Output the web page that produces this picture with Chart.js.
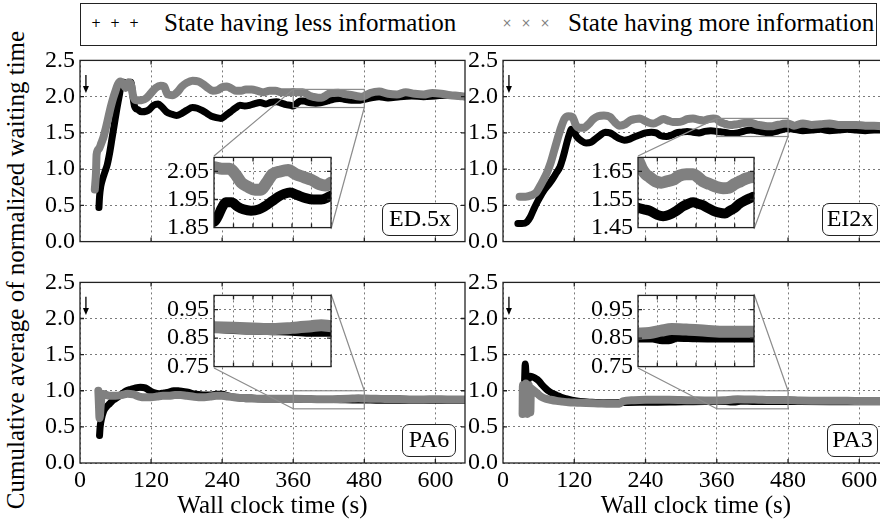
<!DOCTYPE html>
<html>
<head>
<meta charset="utf-8">
<script src="https://cdn.jsdelivr.net/npm/chart.js@4.4.1/dist/chart.umd.min.js"></script>
<style>
  html, body { margin: 0; padding: 0; background: #fff; overflow: hidden; }
  #fig { position: relative; width: 880px; height: 524px; overflow: hidden; background: #fff;
         font-family: "Liberation Serif", "DejaVu Serif", serif; color: #000; }
  #fig canvas { position: absolute; }
  #legend { position: absolute; left: 80px; top: 3px; width: 797px; height: 43px;
            border: 1.3px solid #222; background: #fff; box-sizing: border-box; }
  #legend span { position: absolute; white-space: nowrap; }
  .mk { font-family: "DejaVu Sans", sans-serif; font-size: 12px; top: 12px; transform: translateX(-50%); }
  .lt { font-size: 25px; top: 5px; }
  #ytitle { position: absolute; left: 16px; top: 270px; font-size: 25px; white-space: nowrap;
            transform: translate(-50%, -50%) rotate(-90deg); }
  .tag { position: absolute; border: 1.3px solid #222; border-radius: 7px; background: #fff;
         font-size: 24px; text-align: center; box-sizing: border-box; line-height: 29px; }
</style>
</head>
<body>
<div id="fig">
  <div id="legend">
    <span class="mk" style="left:15px;color:#000">+</span>
    <span class="mk" style="left:34px;color:#000">+</span>
    <span class="mk" style="left:53px;color:#000">+</span>
    <span class="lt" style="left:83px">State having less information</span>
    <span class="mk" style="left:426px;color:#808080">×</span>
    <span class="mk" style="left:445px;color:#808080">×</span>
    <span class="mk" style="left:464px;color:#808080">×</span>
    <span class="lt" style="left:487px">State having more information</span>
  </div>
  <div id="ytitle">Cumulative average of normalized waiting time</div>
</div>
<script>
// axis ticks
const timeTicks = [0, 120, 240, 360, 480, 600];
const waitTicks = [0, 0.5, 1.0, 1.5, 2.0, 2.5];
const zoomTimeTicks = [360, 380, 400, 420, 440, 460, 480];
const edZoomTicks = [1.85, 1.95, 2.05];
const eiZoomTicks = [1.45, 1.55, 1.65];
const paZoomTicks = [0.75, 0.85, 0.95];

// start marker (arrow) in data units
const arrowTime = 10, arrowFrom = 2.3, arrowTo = 2.05;

// [wall clock time (s), cumulative average]
const ed5xLess = [
  [32,0.47],[33,0.62],[35,0.76],[38,0.86],[42,0.96],[46,1.06],[50,1.22],[54,1.42],[58,1.62],[62,1.82],
  [66,2.0],[70,2.17],[74,2.2],[78,2.13],[82,2.17],[86,2.2],[89,2.02],[92,1.87],[98,1.82],[104,1.79],
  [112,1.8],[118,1.83],[124,1.88],[132,1.9],[138,1.86],[146,1.79],[154,1.76],[163,1.74],[172,1.77],
  [180,1.81],[190,1.85],[198,1.84],[206,1.81],[214,1.77],[222,1.73],[230,1.71],[238,1.7],[246,1.74],
  [254,1.79],[262,1.84],[270,1.88],[278,1.87],[286,1.88],[294,1.9],[304,1.92],[314,1.9],[322,1.92],
  [332,1.93],[340,1.91],[348,1.89],[356,1.88],
  [360,1.87],[364,1.89],[368,1.92],[372,1.94],[378,1.94],[384,1.925],[390,1.915],[398,1.91],[406,1.915],
  [414,1.93],[420,1.945],[426,1.96],[432,1.97],[438,1.975],[446,1.965],[454,1.955],[462,1.95],[470,1.95],
  [478,1.96],[490,1.98],[505,2.0],[520,1.98],[540,2.0],[560,2.01],[580,2.0],[600,2.01],[620,2.02],
  [640,2.01],[650,2.0]
];
const ed5xMore = [
  [25,0.72],[27,0.95],[28,1.2],[32,1.28],[36,1.36],[40,1.45],[44,1.58],[48,1.72],[52,1.86],[56,1.98],
  [60,2.08],[64,2.17],[68,2.21],[73,2.18],[77,2.12],[82,2.2],[86,2.17],[90,2.0],[95,1.95],[104,1.95],
  [112,1.98],[120,2.05],[128,2.12],[136,2.15],[142,2.14],[148,2.03],[156,2.02],[164,2.06],[172,2.14],
  [180,2.19],[190,2.22],[200,2.21],[208,2.17],[216,2.12],[224,2.08],[232,2.09],[240,2.13],[248,2.14],
  [256,2.11],[264,2.08],[272,2.08],[280,2.1],[290,2.1],[300,2.08],[310,2.06],[320,2.08],[330,2.08],
  [340,2.06],[350,2.06],
  [360,2.065],[368,2.06],[376,2.06],[382,2.04],[388,2.01],[395,1.995],[402,1.985],[408,1.985],[414,2.01],
  [420,2.04],[428,2.05],[436,2.055],[444,2.04],[452,2.03],[460,2.02],[468,2.005],[474,2.0],[480,2.01],
  [490,2.05],[505,2.07],[520,2.04],[535,2.03],[550,2.06],[565,2.04],[580,2.03],[595,2.05],[610,2.04],
  [625,2.02],[640,2.01],[650,2.0]
];

const ei2xLess = [
  [25,0.25],[32,0.25],[40,0.27],[46,0.34],[52,0.45],[58,0.55],[64,0.64],[70,0.72],[78,0.8],[84,0.87],
  [90,0.95],[96,1.03],[100,1.13],[104,1.25],[108,1.38],[112,1.49],[115,1.55],[119,1.52],[124,1.45],
  [132,1.39],[140,1.36],[148,1.37],[156,1.42],[164,1.47],[172,1.51],[180,1.5],[188,1.46],[196,1.42],
  [204,1.4],[212,1.41],[220,1.44],[230,1.47],[240,1.5],[250,1.51],[258,1.5],[266,1.46],[275,1.45],
  [284,1.47],[292,1.5],[300,1.51],[310,1.52],[320,1.51],[330,1.5],[340,1.52],[350,1.53],
  [360,1.52],[366,1.515],[372,1.51],[380,1.495],[386,1.49],[392,1.495],[400,1.51],[406,1.525],[412,1.535],
  [417,1.54],[422,1.535],[427,1.53],[432,1.52],[438,1.51],[444,1.503],[450,1.5],[455,1.51],[460,1.52],
  [465,1.535],[470,1.545],[476,1.555],[480,1.56],
  [490,1.55],[505,1.53],[520,1.54],[535,1.55],[550,1.53],[565,1.54],[580,1.55],[595,1.54],[610,1.53],
  [625,1.54],[640,1.54],[650,1.54]
];
const ei2xMore = [
  [28,0.62],[38,0.62],[48,0.64],[56,0.68],[62,0.76],[68,0.85],[74,0.95],[80,1.08],[86,1.25],[92,1.42],
  [98,1.58],[104,1.7],[110,1.73],[117,1.72],[122,1.62],[128,1.57],[136,1.57],[144,1.62],[152,1.69],
  [160,1.73],[170,1.74],[180,1.72],[188,1.65],[196,1.6],[206,1.62],[214,1.67],[222,1.69],[230,1.7],
  [238,1.67],[246,1.64],[254,1.63],[262,1.66],[270,1.69],[278,1.67],[286,1.65],[294,1.65],[302,1.66],
  [310,1.69],[320,1.7],[330,1.68],[338,1.67],[346,1.69],[354,1.7],
  [360,1.69],[364,1.66],[368,1.64],[372,1.63],[378,1.615],[384,1.61],[390,1.615],[396,1.62],[403,1.635],
  [410,1.64],[417,1.64],[422,1.63],[427,1.615],[434,1.605],[441,1.595],[448,1.59],[454,1.592],[460,1.605],
  [466,1.615],[472,1.625],[480,1.63],
  [490,1.6],[505,1.63],[520,1.61],[535,1.62],[550,1.63],[565,1.61],[580,1.61],[595,1.61],[610,1.6],
  [625,1.6],[640,1.59],[650,1.59]
];

const pa6Less = [
  [33,0.38],[34,0.5],[36,0.6],[40,0.72],[45,0.78],[50,0.82],[56,0.87],[62,0.9],[70,0.95],[78,1.0],
  [86,1.02],[94,1.04],[102,1.05],[110,1.04],[118,1.0],[126,0.97],[134,0.96],[142,0.97],[150,0.98],
  [158,1.0],[166,1.0],[174,0.99],[182,0.98],[190,0.96],[200,0.95],[210,0.94],[220,0.94],[230,0.95],
  [240,0.95],[250,0.93],[260,0.91],[270,0.9],[285,0.89],[300,0.89],[320,0.885],[340,0.885],
  [360,0.886],[380,0.882],[400,0.88],[420,0.878],[440,0.876],[460,0.872],[480,0.872],
  [500,0.87],[540,0.87],[580,0.868],[620,0.868],[650,0.868]
];
const pa6More = [
  [31,1.0],[32,0.8],[33,0.62],[35,0.8],[37,0.96],[42,0.95],[50,0.93],[60,0.93],[70,0.94],[80,0.96],
  [90,0.95],[100,0.92],[110,0.91],[120,0.91],[130,0.92],[140,0.93],[150,0.93],[160,0.94],[170,0.94],
  [180,0.93],[190,0.92],[200,0.91],[210,0.91],[220,0.92],[230,0.93],[240,0.93],[250,0.92],[260,0.91],
  [270,0.9],[280,0.9],[290,0.9],[300,0.89],[320,0.89],[340,0.89],
  [360,0.888],[380,0.886],[400,0.884],[420,0.882],[440,0.886],[460,0.892],[470,0.895],[480,0.892],
  [500,0.89],[520,0.885],[540,0.885],[560,0.88],[580,0.88],[600,0.882],[620,0.88],[650,0.88]
];

const pa3Less = [
  [36,1.05],[37.5,1.37],[39,1.2],[42,1.15],[46,1.2],[50,1.19],[55,1.17],[60,1.14],[66,1.08],[72,1.03],
  [78,0.99],[84,0.96],[90,0.94],[98,0.91],[106,0.89],[116,0.87],[130,0.85],[150,0.84],[170,0.835],
  [190,0.835],[210,0.838],[230,0.84],[260,0.842],[290,0.845],[320,0.848],[340,0.85],
  [360,0.852],[375,0.852],[385,0.846],[392,0.846],[400,0.855],[420,0.853],[440,0.852],[460,0.852],
  [480,0.852],[500,0.85],[550,0.848],[600,0.848],[650,0.848]
];
const pa3More = [
  [33,0.68],[33.5,1.08],[36,0.7],[38.5,1.1],[41,0.68],[43.5,1.08],[46,0.7],[47,1.03],[52,1.0],[58,0.96],
  [64,0.92],[72,0.89],[80,0.875],[90,0.86],[100,0.85],[110,0.84],[125,0.835],[140,0.83],[160,0.825],
  [180,0.82],[196,0.82],[202,0.855],[220,0.87],[240,0.875],[260,0.875],[280,0.875],[300,0.872],
  [320,0.868],[340,0.865],
  [360,0.866],[372,0.868],[384,0.876],[395,0.882],[410,0.88],[430,0.876],[450,0.872],[480,0.872],
  [500,0.865],[540,0.862],[580,0.86],[620,0.858],[650,0.858]
];

// page layout of the four panels and their zoomed insets
const panels = [
  { tag: 'ED.5x', less: ed5xLess, more: ed5xMore, showTime: false,
    plot: { x: 80, y: 59, w: 385, h: 184 }, tagBox: { x: 382, y: 203, w: 76, h: 33 },
    zoom: { x: 214, y: 156, w: 117, h: 73, min: 1.85, max: 2.10, ticks: edZoomTicks, links: ['tl', 'br'] } },
  { tag: 'EI2x', less: ei2xLess, more: ei2xMore, showTime: false,
    plot: { x: 503, y: 59, w: 386, h: 184 }, tagBox: { x: 822, y: 203, w: 56, h: 33 },
    zoom: { x: 638, y: 156, w: 116, h: 73, min: 1.45, max: 1.70, ticks: eiZoomTicks, links: ['tl', 'br'] } },
  { tag: 'PA6', less: pa6Less, more: pa6More, showTime: true,
    plot: { x: 80, y: 281, w: 385, h: 182 }, tagBox: { x: 402, y: 424, w: 54, h: 33 },
    zoom: { x: 214, y: 294, w: 117, h: 74, min: 0.75, max: 1.00, ticks: paZoomTicks, links: ['bl', 'tr'] } },
  { tag: 'PA3', less: pa3Less, more: pa3More, showTime: true,
    plot: { x: 503, y: 281, w: 386, h: 182 }, tagBox: { x: 827, y: 424, w: 51, h: 33 },
    zoom: { x: 638, y: 294, w: 116, h: 74, min: 0.75, max: 1.00, ticks: paZoomTicks, links: ['bl', 'tr'] } }
];

const fig = document.getElementById('fig');
const serif = '"Liberation Serif", "DejaVu Serif", serif';
const tickFont = { family: serif, size: 24 };
const titleFont = { family: serif, size: 25 };

function series(points, color, width, order) {
  return {
    data: points.map(([x, y]) => ({ x, y })),
    borderColor: color,
    backgroundColor: color,
    borderWidth: width,
    pointRadius: 0,
    cubicInterpolationMode: 'monotone',
    borderJoinStyle: 'round',
    borderCapStyle: 'round',
    fill: false,
    clip: 0,
    order
  };
}

function addCanvas(x, y, w, h) {
  const cv = document.createElement('canvas');
  cv.width = w; cv.height = h;
  cv.style.left = x + 'px'; cv.style.top = y + 'px';
  cv.style.width = w + 'px'; cv.style.height = h + 'px';
  fig.appendChild(cv);
  return cv;
}

function fixedTicks(values) {
  return scale => { scale.ticks = values.map(v => ({ value: v })); };
}

// solid frame round the plot with short inward ticks
function drawFrame(chart) {
  const { ctx, chartArea: a, scales } = chart;
  ctx.save();
  ctx.strokeStyle = '#222';
  ctx.lineWidth = 1.3;
  ctx.beginPath();
  scales.x.ticks.forEach(t => {
    const px = scales.x.getPixelForValue(t.value);
    if (px <= a.left + 1 || px >= a.right - 1) return;
    ctx.moveTo(px, a.top); ctx.lineTo(px, a.top + 4);
    ctx.moveTo(px, a.bottom); ctx.lineTo(px, a.bottom - 4);
  });
  scales.y.ticks.forEach(t => {
    const py = scales.y.getPixelForValue(t.value);
    if (py <= a.top + 1 || py >= a.bottom - 1) return;
    ctx.moveTo(a.left, py); ctx.lineTo(a.left + 4, py);
    ctx.moveTo(a.right, py); ctx.lineTo(a.right - 4, py);
  });
  ctx.stroke();
  ctx.strokeRect(a.left, a.top, a.right - a.left, a.bottom - a.top);
  ctx.restore();
}

function gridOpts() {
  return { color: '#7a7a7a', lineWidth: 1, drawTicks: false };
}

function mainChart(p) {
  const m = { l: 64, t: 18, r: 2, b: p.showTime ? 524 - p.plot.y - p.plot.h : 18 };
  const W = p.plot.w + m.l + m.r, H = p.plot.h + m.t + m.b;
  const ox = p.plot.x - m.l, oy = p.plot.y - m.t;
  const cv = addCanvas(ox, oy, W, H);
  const z = p.zoom;

  const marks = {
    id: 'marks',
    afterDatasetsDraw(chart) {
      const { ctx, scales: { x, y } } = chart;
      ctx.save();
      // zoomed region and its connectors to the inset
      const r = {
        x0: x.getPixelForValue(zoomTimeTicks[0]), x1: x.getPixelForValue(zoomTimeTicks[zoomTimeTicks.length - 1]),
        y0: y.getPixelForValue(z.max), y1: y.getPixelForValue(z.min)
      };
      const b = { x0: z.x - ox, x1: z.x + z.w - ox, y0: z.y - oy, y1: z.y + z.h - oy };
      const corner = (q, c) => [c[1] === 'l' ? q.x0 : q.x1, c[0] === 't' ? q.y0 : q.y1];
      ctx.strokeStyle = '#8c8c8c';
      ctx.lineWidth = 1.2;
      ctx.strokeRect(r.x0, r.y0, r.x1 - r.x0, r.y1 - r.y0);
      ctx.beginPath();
      z.links.forEach(c => {
        const [ax, ay] = corner(b, c), [bx, by] = corner(r, c);
        ctx.moveTo(ax, ay); ctx.lineTo(bx, by);
      });
      ctx.stroke();
      // start arrow
      const sx = x.getPixelForValue(arrowTime);
      const sy0 = y.getPixelForValue(arrowFrom), sy1 = y.getPixelForValue(arrowTo);
      ctx.strokeStyle = '#000';
      ctx.fillStyle = '#000';
      ctx.lineWidth = 1.3;
      ctx.beginPath();
      ctx.moveTo(sx, sy0); ctx.lineTo(sx, sy1 - 5);
      ctx.stroke();
      ctx.beginPath();
      ctx.moveTo(sx - 3, sy1 - 7); ctx.lineTo(sx + 3, sy1 - 7); ctx.lineTo(sx, sy1);
      ctx.closePath();
      ctx.fill();
      ctx.restore();
      drawFrame(chart);
    }
  };

  new Chart(cv, {
    type: 'line',
    data: { datasets: [series(p.less, '#000000', 7, 2), series(p.more, '#808080', 8, 1)] },
    options: {
      responsive: false,
      animation: false,
      devicePixelRatio: 1,
      layout: { padding: { left: 0, top: m.t, right: m.r, bottom: 0 } },
      plugins: { legend: { display: false }, tooltip: { enabled: false } },
      scales: {
        x: {
          type: 'linear', min: 0, max: 650,
          afterBuildTicks: fixedTicks(timeTicks),
          afterFit: s => { s.height = m.b; },
          grid: gridOpts(),
          border: { display: false, dash: [2, 3] },
          ticks: { display: p.showTime, font: tickFont, color: '#000', padding: 3, maxRotation: 0,
                   callback: v => String(v) },
          title: { display: p.showTime, text: 'Wall clock time (s)', font: titleFont, color: '#000',
                   padding: { top: 0, bottom: 3 } }
        },
        y: {
          type: 'linear', min: 0, max: 2.5,
          afterBuildTicks: fixedTicks(waitTicks),
          afterFit: s => { s.width = m.l; },
          grid: gridOpts(),
          border: { display: false, dash: [2, 3] },
          ticks: { font: tickFont, color: '#000', padding: 5, callback: v => v.toFixed(1) }
        }
      }
    },
    plugins: [marks]
  });
}

function zoomChart(p) {
  const z = p.zoom;
  const m = { l: 64, t: 18, r: 2, b: 18 };
  const W = z.w + m.l + m.r, H = z.h + m.t + m.b;
  const cv = addCanvas(z.x - m.l, z.y - m.t, W, H);

  const paper = {
    id: 'paper',
    beforeDraw(chart) {
      const { ctx, chartArea: a } = chart;
      ctx.save();
      ctx.fillStyle = '#fff';
      ctx.fillRect(a.left, a.top, a.right - a.left, a.bottom - a.top);
      ctx.restore();
    },
    afterDatasetsDraw: drawFrame
  };

  new Chart(cv, {
    type: 'line',
    data: { datasets: [series(p.less, '#000000', 10, 2), series(p.more, '#808080', 12, 1)] },
    options: {
      responsive: false,
      animation: false,
      devicePixelRatio: 1,
      layout: { padding: { left: 0, top: m.t, right: m.r, bottom: 0 } },
      plugins: { legend: { display: false }, tooltip: { enabled: false } },
      scales: {
        x: {
          type: 'linear', min: zoomTimeTicks[0], max: zoomTimeTicks[zoomTimeTicks.length - 1],
          afterBuildTicks: fixedTicks(zoomTimeTicks),
          afterFit: s => { s.height = m.b; },
          grid: gridOpts(),
          border: { display: false, dash: [2, 3] },
          ticks: { display: false }
        },
        y: {
          type: 'linear', min: z.min, max: z.max,
          afterBuildTicks: fixedTicks(z.ticks),
          afterFit: s => { s.width = m.l; },
          grid: gridOpts(),
          border: { display: false, dash: [2, 3] },
          ticks: { font: tickFont, color: '#000', padding: 5, callback: v => v.toFixed(2) }
        }
      }
    },
    plugins: [paper]
  });
}

panels.forEach(mainChart);
panels.forEach(zoomChart);
panels.forEach(p => {
  const d = document.createElement('div');
  d.className = 'tag';
  d.textContent = p.tag;
  const t = p.tagBox;
  Object.assign(d.style, { left: t.x + 'px', top: t.y + 'px', width: t.w + 'px', height: t.h + 'px' });
  fig.appendChild(d);
});
</script>
</body>
</html>
